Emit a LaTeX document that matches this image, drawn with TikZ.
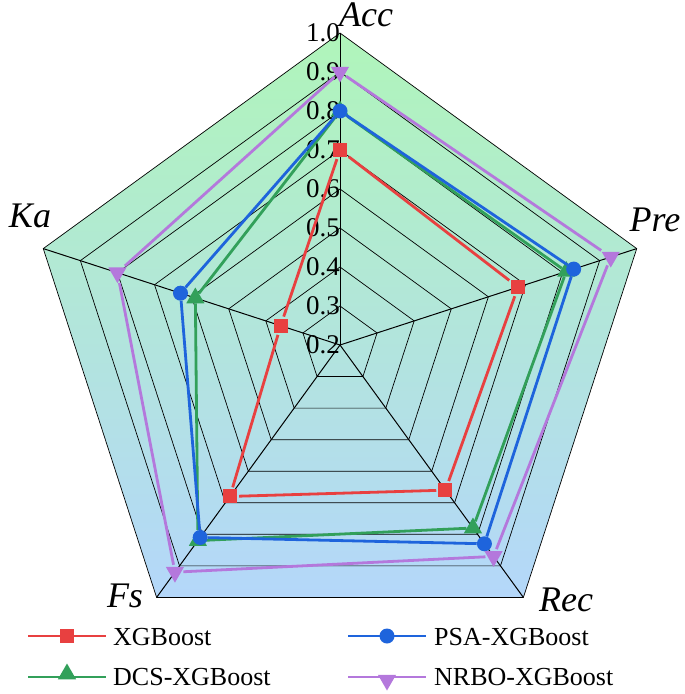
\documentclass[tikz,border=0pt]{standalone}
\usepackage{fontspec}
\setmainfont{Liberation Serif}
\usetikzlibrary{shapes.geometric}
\definecolor{cr}{RGB}{232,64,64}
\definecolor{cb}{RGB}{30,100,220}
\definecolor{cg}{RGB}{50,160,90}
\definecolor{cp}{RGB}{180,120,220}
\definecolor{topg}{RGB}{176,245,186}
\definecolor{botb}{RGB}{180,215,250}
\tikzset{
 ser/.style={line width=2.8pt},
 msq/.style={fill=#1,draw=none,rectangle,minimum size=14pt,inner sep=0pt},
 mci/.style={fill=#1,draw=none,circle,minimum size=15pt,inner sep=0pt},
 mtu/.style={fill=#1,draw=none,regular polygon,regular polygon sides=3,minimum size=21pt,inner sep=0pt},
 mtd/.style={fill=#1,draw=none,regular polygon,regular polygon sides=3,shape border rotate=180,minimum size=21pt,inner sep=0pt},
 axl/.style={font=\fontsize{36}{36}\selectfont\itshape,inner sep=0pt},
 tkl/.style={font=\fontsize{27}{27}\selectfont,anchor=east,inner sep=0pt},
 lgt/.style={font=\fontsize{26}{26}\selectfont,anchor=west,inner sep=0pt}
}
\begin{document}
\begin{tikzpicture}[x=1pt,y=-1pt]
\useasboundingbox (0,0) rectangle (685,694);
\coordinate (O) at (340,345);
\shade[top color=topg,bottom color=botb] ({340+312*cos(90)},{345-312*sin(90)}) \foreach \a in {18,-54,-126,162}{ -- ({340+312*cos(\a)},{345-312*sin(\a)})} -- cycle;
\foreach \k in {1,...,8}{
 \draw[line width=0.7pt] ({340+\k*39*cos(90)},{345-\k*39*sin(90)}) \foreach \a in {18,-54,-126,162}{ -- ({340+\k*39*cos(\a)},{345-\k*39*sin(\a)})} -- cycle;
}
\foreach \a [count=\i] in {90,18,-54,-126,162}{
 \coordinate (V\i) at ({340+312*cos(\a)},{345-312*sin(\a)});
 \draw[line width=1pt] (O) -- (V\i);
}
\foreach \k/\t in {0/0.2,1/0.3,2/0.4,3/0.5,4/0.6,5/0.7,6/0.8,7/0.9,8/1.0}{
 \node[tkl] (t\k) at (340,{345-\k*39}) {\t};
}
\node[axl] (lAcc) at (366,15) {Acc};
\node[axl] (lPre) at (655,220) {Pre};
\node[axl] (lRec) at (566,600) {Rec};
\node[axl] (lFs) at (125,596) {Fs};
\node[axl] (lKa) at (30,216) {Ka};
% series
\def\series#1#2#3#4#5{%
 \foreach \v/\a [count=\i] in {#5}{
  \node[#3=#2] (#1\i) at ({340+(\v-0.2)*390*cos(\a)},{345-(\v-0.2)*390*sin(\a)}) {};
 }
 \draw[ser,#2,shorten >=#4,shorten <=#4] (#11) -- (#12);
 \draw[ser,#2,shorten >=#4,shorten <=#4] (#12) -- (#13);
 \draw[ser,#2,shorten >=#4,shorten <=#4] (#13) -- (#14);
 \draw[ser,#2,shorten >=#4,shorten <=#4] (#14) -- (#15);
 \draw[ser,#2,shorten >=#4,shorten <=#4] (#15) -- (#11);
}
\series{r}{cr}{msq}{2pt}{0.7/90,0.68/18,0.66/-54,0.68/-126,0.36/162}
\series{g}{cg}{mtu}{0pt}{0.8/90,0.81/18,0.78/-54,0.82/-126,0.59/162}
\series{b}{cb}{mci}{0pt}{0.8/90,0.83/18,0.83/-54,0.81/-126,0.63/162}
\series{p}{cp}{mtd}{2pt}{0.9/90,0.93/18,0.87/-54,0.92/-126,0.80/162}
% legend
\coordinate (a1) at (28,636); \coordinate (a2) at (106,636);
\draw[ser,cr] (a1) -- (a2); \node[msq=cr] (lg1) at (67,636) {};
\node[lgt] (tx1) at (113,637) {XGBoost};
\coordinate (b1) at (348,636); \coordinate (b2) at (426,636);
\draw[ser,cb] (b1) -- (b2); \node[mci=cb] (lg2) at (387,636) {};
\node[lgt] (tx2) at (434,637) {PSA-XGBoost};
\coordinate (c1) at (28,677); \coordinate (c2) at (106,677);
\draw[ser,cg] (c1) -- (c2); \node[mtu=cg] (lg3) at (67,674) {};
\node[lgt] (tx3) at (113,677) {DCS-XGBoost};
\coordinate (d1) at (348,677); \coordinate (d2) at (426,677);
\draw[ser,cp] (d1) -- (d2); \node[mtd=cp] (lg4) at (387,680) {};
\node[lgt] (tx4) at (434,677) {NRBO-XGBoost};
\end{tikzpicture}
\end{document}
